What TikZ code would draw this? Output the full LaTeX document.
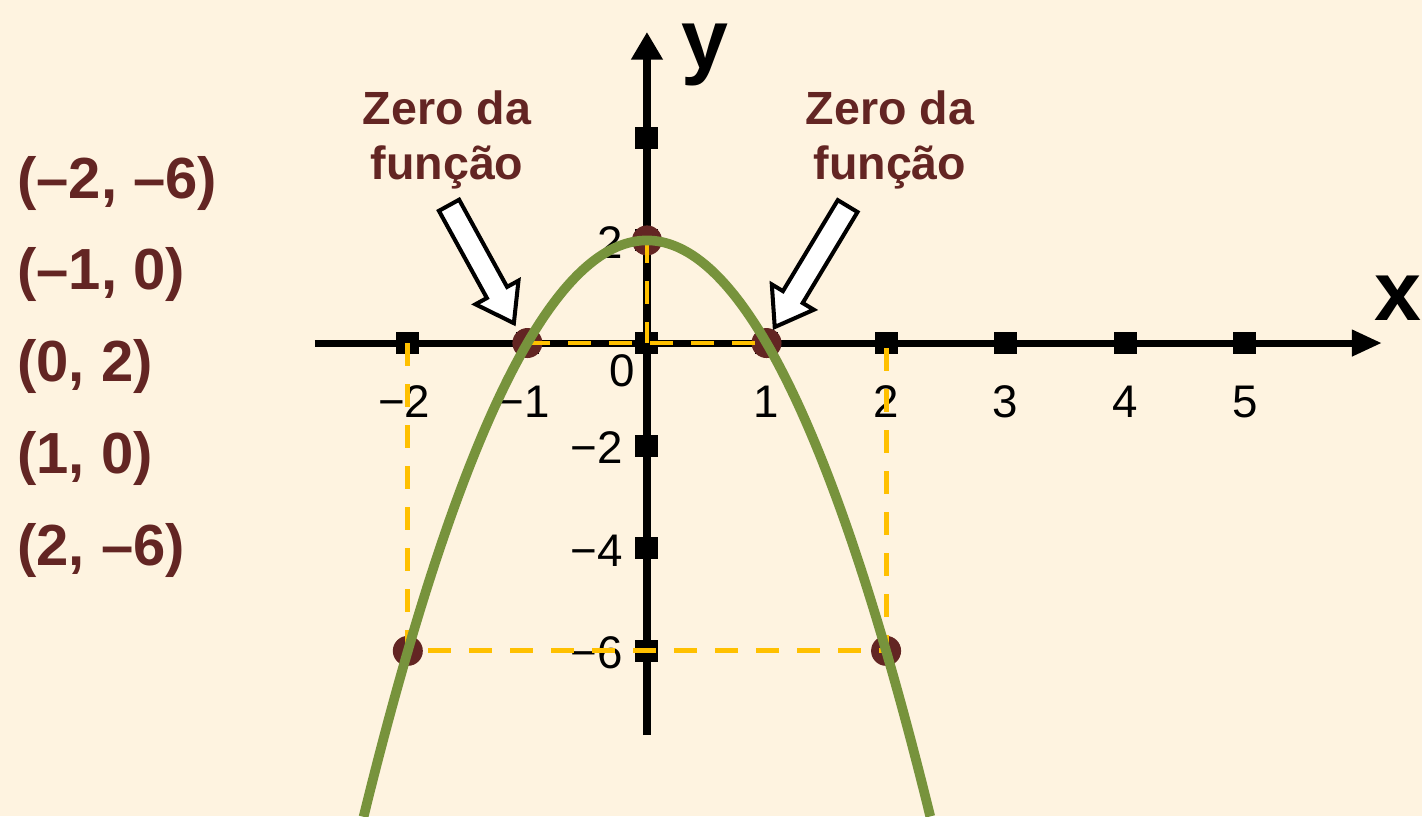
\documentclass[tikz,border=0pt]{standalone}
\usepackage{fontspec}
\setmainfont{Liberation Sans}
\usetikzlibrary{arrows.meta,shapes.arrows,calc}
\definecolor{bgcream}{HTML}{FEF3E0}
\definecolor{ptbrown}{HTML}{632523}
\definecolor{curvegreen}{HTML}{77933C}
\definecolor{dashorange}{HTML}{FFC000}

\begin{document}
\begin{tikzpicture}[x=2.391cm, y=1.026cm,
	tick/.style={fill=black, inner sep=0pt, minimum width=0.46cm, minimum height=0.44cm},
	dot/.style={circle, fill=ptbrown, inner sep=0pt, minimum size=0.6cm},
	ticklabel/.style={font=\fontsize{26}{30}\selectfont, inner sep=0pt},
	pointlabel/.style={font=\fontsize{33}{40}\selectfont\bfseries, text=ptbrown, anchor=west, inner sep=0pt},
	zerolabel/.style={font=\fontsize{26.5}{31}\selectfont\bfseries, text=ptbrown, align=center, inner sep=0pt},
	axislabel/.style={font=\fontsize{48}{56}\selectfont\bfseries, anchor=base, inner sep=0pt},
	guide/.style={dashorange, line width=2.8pt, dash pattern=on 0.46cm off 0.36cm},
	zeroarrow/.style={single arrow, draw=black, fill=white, line width=2.3pt, inner xsep=0pt,
		inner ysep=0.19cm, single arrow head extend=0.26cm, single arrow tip angle=70}]
	\fill[bgcream] (-5.411,-9.22) rectangle (6.482,6.686);
	\useasboundingbox (-5.411,-9.22) rectangle (6.482,6.686);
	% axes
	\coordinate (xl) at (-2.777,0);
	\coordinate (xr) at (6.147,0);
	\coordinate (yb) at (0,-7.641);
	\coordinate (yt) at (0,6.062);
	\draw[line width=4pt, -{Triangle[length=0.6cm,width=0.5cm]}] (xl) -- (xr);
	\draw[line width=4.5pt, -{Triangle[length=0.55cm,width=0.6cm]}] (yb) -- (yt);
	\node[axislabel] (xlab) at (6.285,0.448) {x};
	\node[axislabel] (ylab) at (0.485,5.36) {y};
	\foreach \x [count=\i] in {-2,-1,0,1,2,3,4,5}
		\node[tick] (tx\i) at (\x,0) {};
	\foreach \y [count=\i] in {4,2,0,-2,-4,-6}
		\node[tick] (ty\i) at (0,\y) {};
	% numbers on the axes
	\foreach \x/\t [count=\i] in {-2.03/−2,-1.03/−1,1/1,2/2,3/3,4/4,5/5}
		\node[ticklabel, anchor=base] (lx\i) at (\x,-1.442) {\t};
	\node[ticklabel, anchor=base] (l0) at (-0.209,-0.838) {0};
	\foreach \y/\t [count=\i] in {2/2,-2/−2,-4/−4,-6/−6}
		\node[ticklabel, anchor=base east] (ly\i) at (-0.2,\y-0.35) {\t};
	% points of the graph
	\foreach \t [count=\i] in {{(–2, –6)},{(–1, 0)},{(0, 2)},{(1, 0)},{(2, –6)}}
		\node[pointlabel] (pt\i) at (-5.269,{3.119-(\i-1)*1.7885}) {\t};
	\node[dot] (dA) at (-2,-6) {};
	\node[dot] (dB) at (-1,0) {};
	\node[dot] (dC) at (0,2) {};
	\node[dot] (dD) at (1,0) {};
	\node[dot] (dE) at (2,-6) {};
	\draw[guide] (tx1.center) -- (dA.center) -- (dE.center) -- (tx5.center);
	\draw[guide] (dB.center) -- (dD.center);
	\draw[guide] (dC.center) -- (ty3.center);
	\draw[curvegreen, line width=5.5pt, domain=-2.37:2.37, samples=120, smooth]
		plot (\x, {2-2*\x*\x});
	% zeros
	\node[zerolabel] (zl) at (-1.672,3.957) {Zero da\\função};
	\node[zerolabel] (zr) at (2.032,3.957) {Zero da\\função};
	\coordinate (al) at (-1.689,2.827);
	\coordinate (ahl) at (-1.146,0.526);
	\coordinate (ar) at (1.714,2.807);
	\coordinate (ahr) at (1.104,0.448);
	\path let \p1=($(ahl)-(al)$), \n1={atan2(\y1,\x1)}, \n2={veclen(\x1,\y1)} in
		node[zeroarrow, minimum height=\n2, rotate=\n1] (arl) at ($(al)!0.5!(ahl)$) {};
	\path let \p1=($(ahr)-(ar)$), \n1={atan2(\y1,\x1)}, \n2={veclen(\x1,\y1)} in
		node[zeroarrow, minimum height=\n2, rotate=\n1] (arr) at ($(ar)!0.5!(ahr)$) {};
\end{tikzpicture}
\end{document}
